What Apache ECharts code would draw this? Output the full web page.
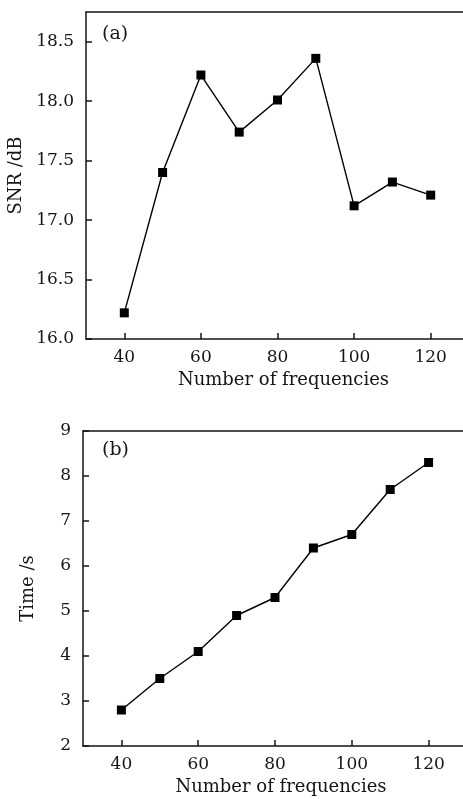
<!DOCTYPE html>
<html>
<head>
<meta charset="utf-8">
<script src="https://cdn.jsdelivr.net/npm/echarts@6/dist/echarts.min.js"></script>
<style>
  html, body { margin: 0; padding: 0; background: #fff; overflow: hidden; }
  #chart { width: 463px; height: 799px; }
</style>
</head>
<body>
<div id="chart"></div>
<script>
// Number of frequencies used (shared x values)
const frequencies = [40, 50, 60, 70, 80, 90, 100, 110, 120];
// (a) signal-to-noise ratio, dB
const snrValues = [16.22, 17.40, 18.22, 17.74, 18.01, 18.36, 17.12, 17.32, 17.21];
// (b) computation time, s
const timeValues = [2.8, 3.5, 4.1, 4.9, 5.3, 6.4, 6.7, 7.7, 8.3];

const xTicks = [40, 60, 80, 100, 120];
const snrTicks = [16.0, 16.5, 17.0, 17.5, 18.0, 18.5];
const timeTicks = [2, 3, 4, 5, 6, 7, 8, 9];

const FONT = 'DejaVu Serif';
const INK = '#151515';
const LABEL_SIZE = 17;
const NAME_SIZE = 18;

const lineCfg = { show: true, lineStyle: { color: INK, width: 1.5 } };

function xAxisCfg(gridIndex) {
  return {
    type: 'value', gridIndex: gridIndex,
    min: 30, max: 130, interval: 10,
    name: 'Number of frequencies', nameLocation: 'middle', nameGap: 32,
    nameTextStyle: { fontFamily: FONT, fontSize: NAME_SIZE, color: INK, padding: [0, 0, 0, 12] },
    axisLine: lineCfg,
    axisTick: { show: true, inside: true, length: 6, customValues: xTicks,
                lineStyle: { color: INK, width: 1.5 } },
    axisLabel: { fontFamily: FONT, fontSize: LABEL_SIZE, color: INK, margin: 10,
                 customValues: xTicks, formatter: v => String(v) },
    splitLine: { show: false }
  };
}

// plain line along the top of each panel
function topFrame(gridIndex) {
  return {
    type: 'value', gridIndex: gridIndex, position: 'top',
    min: 30, max: 130,
    axisLine: lineCfg, axisTick: { show: false }, axisLabel: { show: false },
    splitLine: { show: false }
  };
}

function yAxisCfg(gridIndex, name, min, max, interval, ticks, digits, gap) {
  return {
    type: 'value', gridIndex: gridIndex,
    min: min, max: max, interval: interval,
    name: name, nameLocation: 'middle', nameGap: gap, nameRotate: 90,
    nameTextStyle: { fontFamily: FONT, fontSize: NAME_SIZE, color: INK },
    axisLine: lineCfg,
    axisTick: { show: true, inside: true, length: 6, customValues: ticks,
                lineStyle: { color: INK, width: 1.5 } },
    axisLabel: { fontFamily: FONT, fontSize: LABEL_SIZE, color: INK, margin: 12,
                 customValues: ticks, formatter: v => v.toFixed(digits) },
    splitLine: { show: false }
  };
}

function lineSeries(idx, values) {
  return {
    type: 'line', xAxisIndex: idx, yAxisIndex: idx,
    data: frequencies.map((f, i) => [f, values[i]]),
    symbol: 'rect', symbolSize: 9,
    itemStyle: { color: '#000' },
    lineStyle: { color: '#000', width: 1.4 },
    animation: false
  };
}

const chart = echarts.init(document.getElementById('chart'), null, { renderer: 'canvas' });
chart.setOption({
  backgroundColor: '#fff',
  animation: false,
  grid: [
    { left: 86, top: 12, width: 383, height: 327, outerBoundsMode: 'none', containLabel: false },
    { left: 83, top: 431, width: 384, height: 315, outerBoundsMode: 'none', containLabel: false }
  ],
  xAxis: [xAxisCfg(0), xAxisCfg(1), topFrame(0), topFrame(1)],
  yAxis: [
    yAxisCfg(0, 'SNR /dB', 16.0, 18.75, 0.5, snrTicks, 1, 56),
    yAxisCfg(1, 'Time /s', 2, 9, 1, timeTicks, 0, 46)
  ],
  series: [lineSeries(0, snrValues), lineSeries(1, timeValues)],
  graphic: [
    { type: 'text', left: 102, top: 25, style: { text: '(a)', font: '19px "' + FONT + '"', fill: INK } },
    { type: 'text', left: 102, top: 441, style: { text: '(b)', font: '19px "' + FONT + '"', fill: INK } }
  ]
});
</script>
</body>
</html>
